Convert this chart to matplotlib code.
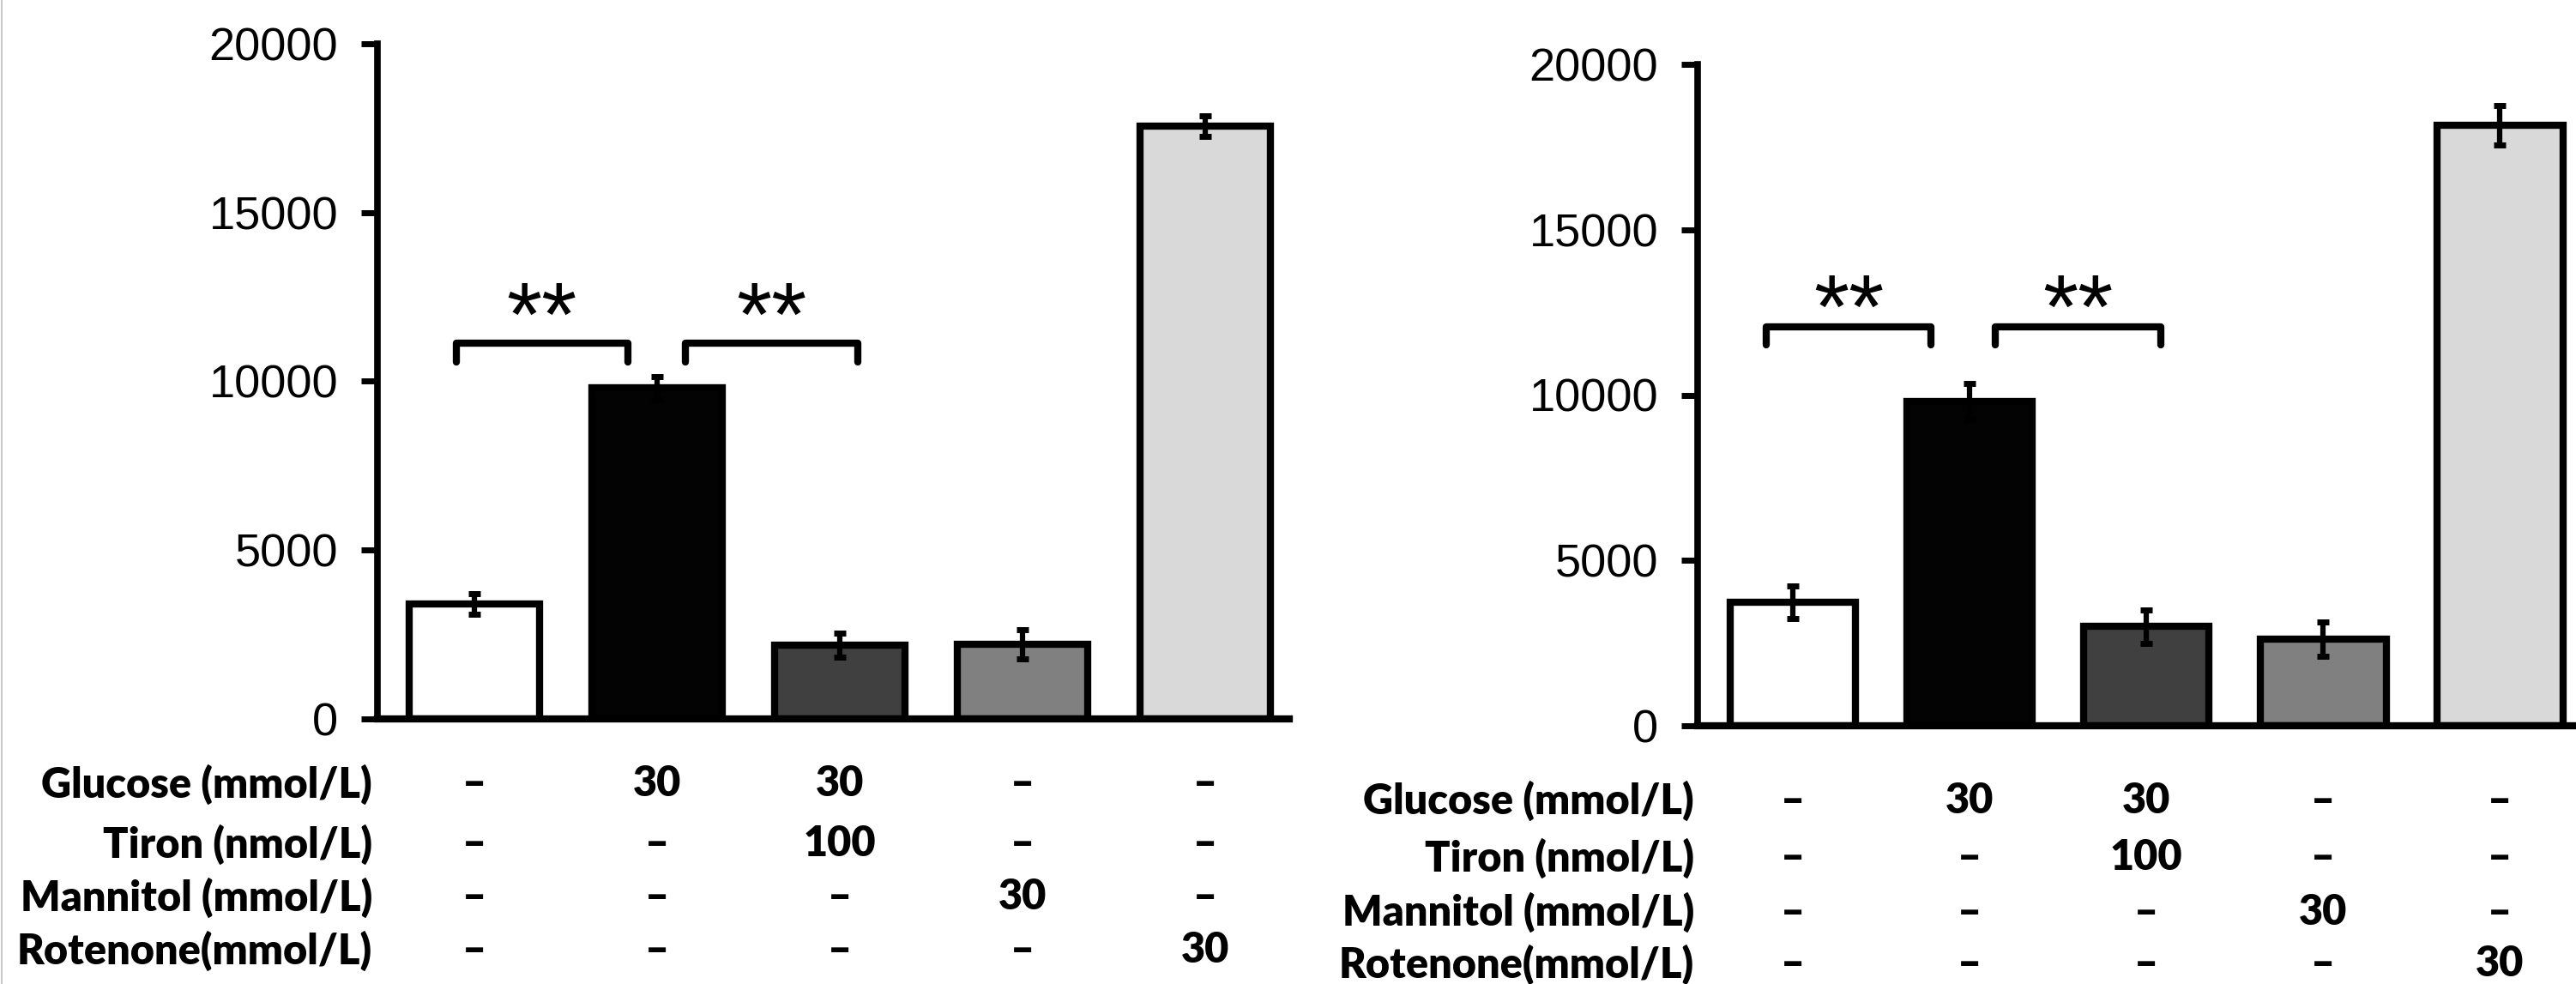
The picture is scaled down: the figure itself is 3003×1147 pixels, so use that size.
import matplotlib
matplotlib.use("Agg")
import matplotlib.pyplot as plt
import numpy as np

# values
groups = ["ctrl", "glucose", "glucose+tiron", "mannitol", "rotenone"]
left_means = [3400, 9800, 2180, 2220, 17560]
left_err = [300, 350, 350, 430, 300]
right_means = [3730, 9800, 3000, 2620, 18160]
right_err = [500, 550, 500, 520, 600]
bar_colors = ["#ffffff", "#030303", "#404040", "#808080", "#d9d9d9"]

row_labels = ["Glucose (mmol/L)", "Tiron (nmol/L)", "Mannitol (mmol/L)", "Rotenone(mmol/L)"]
row_values = [
    ["–", "30", "30", "–", "–"],
    ["–", "–", "100", "–", "–"],
    ["–", "–", "–", "30", "–"],
    ["–", "–", "–", "–", "30"],
]
yticks = [0, 5000, 10000, 15000, 20000]

W, H = 3003, 1147
fig = plt.figure(figsize=(W / 100, H / 100), dpi=100)

tick_font = ["Liberation Sans", "DejaVu Sans"]
tab_font = ["Lato", "DejaVu Sans"]


def panel(rect, means, err, xlim, brk_y, brk_x, star_base, row_y, label_x):
    ax = fig.add_axes(rect)
    x = np.arange(len(means))
    ax.bar(x, means, width=0.71, color=bar_colors, edgecolor="black",
           linewidth=6, zorder=2)
    ax.errorbar(x, means, yerr=err, fmt="none", ecolor="black",
                elinewidth=4.5, capsize=5, capthick=5, zorder=3)
    ax.set_xlim(*xlim)
    ax.set_ylim(0, 20000)
    ax.set_yticks(yticks)
    ax.set_yticklabels([str(t) for t in yticks], fontsize=39, family=tick_font)
    ax.tick_params(axis="y", length=14, width=5, pad=19)
    ax.set_xticks([])
    for s in ["top", "right"]:
        ax.spines[s].set_visible(False)
    ax.spines["left"].set_linewidth(5.5)
    ax.spines["bottom"].set_linewidth(6)
    for s in ["left", "bottom"]:
        ax.spines[s].set_capstyle("projecting")

    # significance brackets
    for (x0, x1) in brk_x:
        ax.plot([x0, x0, x1, x1], [brk_y - 560, brk_y, brk_y, brk_y - 560],
                color="black", lw=6, solid_capstyle="round",
                solid_joinstyle="round", clip_on=False, zorder=4)
        ax.text((x0 + x1) / 2, brk_y + star_base, "**", ha="center",
                va="baseline", fontsize=76, family=tick_font, zorder=4)

    # treatment table under the axis
    tr = matplotlib.transforms.blended_transform_factory(ax.transData, fig.transFigure)
    for r, lab in enumerate(row_labels):
        yf = 1 - row_y[r] / H
        fig.text(label_x / W, yf, lab, ha="right", va="center", fontsize=35,
                 fontweight="heavy", family=tab_font)
        for c, v in enumerate(row_values[r]):
            ax.text(x[c], yf, v, transform=tr, ha="center", va="center",
                    fontsize=35, fontweight="heavy", family=tab_font)
    return ax


# left panel: axis 440..1503 px, y 0 at 838, 20000 at 51
panel([440 / W, 1 - 838 / H, (1503 - 440) / W, (838 - 51) / H],
      left_means, left_err, (-0.53, 4.46), 11140,
      [(-0.1, 0.84), (1.155, 2.10)], -80,
      [914, 984, 1046, 1108], 434)

# right panel: axis 1979..3003 px, y 0 at 846, 20000 at 75
panel([1979 / W, 1 - 846 / H, (3003 - 1979) / W, (846 - 75) / H],
      right_means, right_err, (-0.54, 4.43), 12070,
      [(-0.15, 0.78), (1.146, 2.08)], -350,
      [933, 1000, 1063, 1124], 1975)

# thin frame line on left edge of the scan
fig.add_artist(plt.Line2D([0.0007, 0.0007], [0, 1], color="#c8c8c8", lw=1.5))

fig.savefig("out.png", dpi=100, facecolor="white")
